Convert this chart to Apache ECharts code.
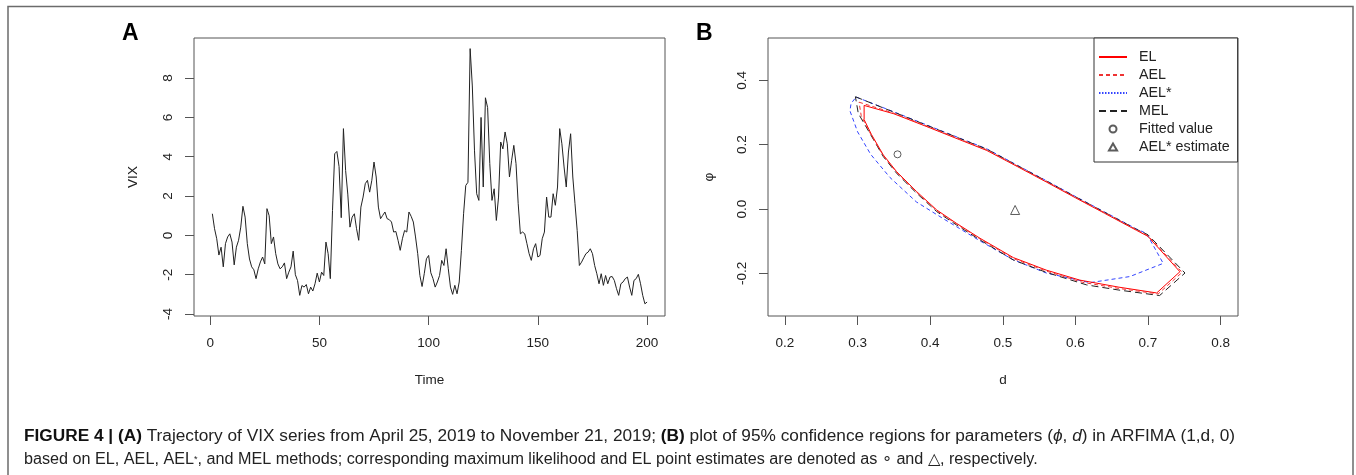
<!DOCTYPE html>
<html>
<head>
<meta charset="utf-8">
<script src="https://cdn.jsdelivr.net/npm/echarts@6/dist/echarts.min.js"></script>
<style>
html,body{margin:0;padding:0;background:#fff;}
#chart{width:1356px;height:475px;}
</style>
</head>
<body>
<div id="chart"></div>
<script>
// ---------- Panel A data: VIX (demeaned) series, t = 1..200 ----------
const vix = [
 1.1, 0.34, -0.17, -1.0, -0.6, -1.6, -0.42, -0.08, 0.08, -0.34,
 -1.5, -0.6, -0.25, 0.42, 1.48, 0.93, -0.42, -1.2, -1.6, -1.75,
 -2.2, -1.7, -1.35, -1.1, -1.45, 1.36, 1.0, -0.42, -0.08, -0.93,
 -1.45, -1.7, -1.6, -1.4, -2.2, -1.87, -1.6, -0.8, -2.0, -2.3,
 -3.05, -2.55, -2.63, -2.5, -2.97, -2.63, -2.83, -2.46, -1.92, -2.37,
 -1.87, -2.04, -0.34, -0.93, -2.2, 1.27, 4.15, 4.27, 3.5, 0.9,
 5.43, 3.3, 2.1, 0.42, 0.93, 1.1, 0.34, -0.25, 1.44, 1.95,
 2.63, 2.8, 2.2, 2.8, 3.73, 2.97, 1.44, 0.85, 1.02, 1.19,
 0.85, 0.8, 0.68, 0.17, 0.2, -0.25, -0.76, -0.17, 0.25, 0.17,
 1.19, 0.97, 0.68, -0.08, -0.93, -2.04, -2.6, -1.95, -1.19, -1.02,
 -1.9, -2.2, -2.63, -2.37, -2.04, -1.27, -1.53, -0.68, -1.7, -2.63,
 -3.0, -2.54, -2.97, -2.37, -0.76, 1.1, 2.54, 2.7, 9.5, 7.6,
 4.3, 2.12, 1.78, 6.0, 2.46, 7.0, 6.5, 3.65, 1.78, 2.37,
 0.76, 1.95, 4.75, 4.4, 5.26, 4.66, 2.97, 3.82, 4.58, 3.65,
 1.61, 0.08, 0.17, 0.08, -0.42, -0.93, -1.27, -0.68, -0.42, -1.1,
 -1.02, -0.17, 0.17, 1.95, 0.93, 0.93, 2.12, 1.53, 2.46, 5.43,
 4.66, 3.48, 2.46, 4.24, 5.17, 2.97, 1.61, 0.25, -1.53, -1.36,
 -1.14, -0.93, -0.85, -0.68, -0.93, -1.53, -1.95, -2.46, -1.95, -2.54,
 -2.04, -2.46, -2.12, -2.09, -2.29, -2.71, -3.05, -2.46, -2.37, -2.2,
 -2.12, -2.63, -3.05, -2.29, -2.2, -1.98, -2.46, -3.05, -3.48, -3.39
];
const timeTicks = [0, 50, 100, 150, 200];
const vixTicks = [-4, -2, 0, 2, 4, 6, 8];

// ---------- Panel B data: 95% confidence regions, points [d, phi] ----------
const regionEL = [
 [0.309,0.322],[0.35,0.296],[0.40,0.252],[0.44,0.216],[0.478,0.182],[0.52,0.132],
 [0.56,0.084],[0.60,0.035],[0.64,-0.013],[0.684,-0.066],[0.700,-0.085],[0.744,-0.195],
 [0.712,-0.261],[0.66,-0.243],[0.606,-0.221],[0.56,-0.190],[0.5145,-0.151],[0.4686,-0.091],
 [0.4365,-0.045],[0.409,-0.003],[0.3814,0.054],[0.3538,0.116],[0.3354,0.168],[0.319,0.232],
 [0.309,0.278],[0.309,0.322]
];
const regionAEL = [
 [0.302,0.332],[0.35,0.298],[0.40,0.254],[0.44,0.218],[0.478,0.184],[0.52,0.134],
 [0.56,0.086],[0.60,0.037],[0.64,-0.011],[0.684,-0.064],[0.700,-0.083],[0.747,-0.197],
 [0.714,-0.264],[0.66,-0.247],[0.61,-0.228],[0.56,-0.193],[0.5145,-0.154],[0.4686,-0.093],
 [0.4365,-0.047],[0.409,-0.005],[0.3814,0.052],[0.3538,0.114],[0.3354,0.166],[0.318,0.233],
 [0.305,0.290],[0.302,0.332]
];
const regionAELstar = [
 [0.298,0.348],[0.35,0.302],[0.40,0.257],[0.44,0.221],[0.478,0.187],[0.52,0.136],
 [0.56,0.088],[0.60,0.039],[0.64,-0.009],[0.684,-0.062],[0.698,-0.076],[0.721,-0.169],
 [0.675,-0.210],[0.620,-0.229],[0.56,-0.199],[0.5145,-0.158],[0.4686,-0.099],[0.44,-0.060],
 [0.418,-0.030],[0.381,0.022],[0.3446,0.098],[0.318,0.170],[0.300,0.240],[0.2895,0.305],
 [0.291,0.328],[0.298,0.348]
];
const regionMEL = [
 [0.297,0.349],[0.35,0.301],[0.40,0.256],[0.44,0.220],[0.478,0.186],[0.52,0.135],
 [0.56,0.087],[0.60,0.038],[0.64,-0.010],[0.684,-0.063],[0.700,-0.080],[0.751,-0.199],
 [0.716,-0.269],[0.66,-0.252],[0.6156,-0.236],[0.56,-0.197],[0.5145,-0.1585],[0.4686,-0.096],
 [0.4365,-0.050],[0.409,-0.008],[0.3814,0.049],[0.3538,0.111],[0.3354,0.163],[0.317,0.235],
 [0.301,0.297],[0.297,0.349]
];
const fittedValue = [[0.355, 0.170]];
const aelStarEstimate = [[0.517, -0.003]];
const dTicks = [0.2, 0.3, 0.4, 0.5, 0.6, 0.7, 0.8];
const phiTicks = [-0.2, 0.0, 0.2, 0.4];

// ---------- chart ----------
const FONT = 'Liberation Sans, Arial, sans-serif';
const CAPFONT = 'Liberation Sans, Arial, sans-serif';
const AX = '#555';
const TXT = '#222';
const chart = echarts.init(document.getElementById('chart'), null, {renderer: 'canvas'});

function xAxisCfg(idx, min, max, ticks, name, fmt) {
  return {
    type: 'value', gridIndex: idx, min: min, max: max,
    name: name, nameLocation: 'middle', nameGap: 57,
    nameTextStyle: {fontFamily: FONT, fontSize: 13.5, color: TXT},
    axisLine: {show: false, onZero: false},
    axisTick: {show: true, length: 9, customValues: ticks, lineStyle: {color: AX, width: 1}},
    axisLabel: {customValues: ticks, margin: 20, fontFamily: FONT, fontSize: 13.5, color: TXT, formatter: fmt},
    splitLine: {show: false}
  };
}
function yAxisCfg(idx, min, max, ticks, name, fmt, gap) {
  return {
    type: 'value', gridIndex: idx, min: min, max: max,
    name: name, nameLocation: 'middle', nameGap: gap, nameRotate: 90,
    nameTextStyle: {fontFamily: FONT, fontSize: 13.5, color: TXT},
    axisLine: {show: false, onZero: false},
    axisTick: {show: true, length: 9, customValues: ticks, lineStyle: {color: AX, width: 1}},
    axisLabel: {customValues: ticks, margin: 19, rotate: 90, fontFamily: FONT, fontSize: 13.5, color: TXT, formatter: fmt},
    splitLine: {show: false}
  };
}
const f1 = v => v.toFixed(1);
const f0 = v => String(v);
const noSym = {color: 'transparent', borderColor: 'transparent', borderWidth: 0, opacity: 0};
const capRich = {
  b: {fontFamily: CAPFONT, fontWeight: 'bold', fontSize: 16, fill: '#111'},
  n: {fontFamily: CAPFONT, fontWeight: 'normal', fontSize: 16, fill: '#222'},
  i: {fontFamily: CAPFONT, fontWeight: 'normal', fontStyle: 'italic', fontSize: 16, fill: '#222'},
  s: {fontFamily: CAPFONT, fontWeight: 'normal', fontSize: 9, fill: '#222'}
};

const option = {
  backgroundColor: '#fff',
  animation: false,
  title: [
    {text: 'A', left: 122, top: 22, padding: 0, textStyle: {fontFamily: FONT, fontWeight: 'bold', fontSize: 23, color: '#000'}},
    {text: 'B', left: 696, top: 22, padding: 0, textStyle: {fontFamily: FONT, fontWeight: 'bold', fontSize: 23, color: '#000'}}
  ],
  graphic: [
    {
      type: 'polyline', silent: true,
      shape: {points: [[8, 475], [8, 6.5], [1353, 6.5], [1353, 475]]},
      style: {stroke: '#6b6b6b', lineWidth: 1.5, fill: null}
    },
    {
      type: 'text', silent: true, x: 24, y: 429, scaleX: 1.078, scaleY: 1,
      style: {
        text: '{b|FIGURE 4 | (A)}{n| Trajectory of VIX series from April 25, 2019 to November 21, 2019; }{b|(B)}{n| plot of 95% confidence regions for parameters (}{i|ϕ}{n|, }{i|d}{n|) in ARFIMA (1,d, 0)}',
        font: 'normal 16px ' + CAPFONT, fill: '#222', rich: capRich
      }
    },
    {
      type: 'text', silent: true, x: 24, y: 452, scaleX: 1.011, scaleY: 1,
      style: {
        text: '{n|based on EL, AEL, AEL}{s|*}{n|, and MEL methods; corresponding maximum likelihood and EL point estimates are denoted as ∘ and △, respectively.}',
        font: 'normal 16px ' + CAPFONT, fill: '#222', rich: capRich
      }
    }
  ],
  legend: {
    orient: 'vertical', left: 1094, top: 38,
    padding: [12, 8, 8, 4], itemWidth: 28, itemHeight: 7, itemGap: 4,
    borderColor: '#333', borderWidth: 1, backgroundColor: '#fff',
    selectedMode: false, symbolKeepAspect: true,
    textStyle: {fontFamily: FONT, fontSize: 14.3, color: TXT, lineHeight: 14, padding: [0, 0, 0, 7]},
    data: [
      {name: 'EL', itemStyle: noSym},
      {name: 'AEL', itemStyle: noSym},
      {name: 'AEL*', itemStyle: noSym, lineStyle: {type: [1.5, 1.5]}},
      {name: 'MEL', itemStyle: noSym},
      {name: 'Fitted value'},
      {name: 'AEL* estimate', icon: 'path://M0,10L5.77,0L11.55,10Z'}
    ]
  },
  grid: [
    {left: 194, top: 38, width: 471, height: 278, show: true, borderColor: AX, borderWidth: 1, backgroundColor: 'transparent'},
    {left: 768, top: 38, width: 470, height: 278, show: true, borderColor: AX, borderWidth: 1, backgroundColor: 'transparent'}
  ],
  xAxis: [
    xAxisCfg(0, -7.4, 208.2, timeTicks, 'Time', f0),
    xAxisCfg(1, 0.1766, 0.824, dTicks, 'd', f1)
  ],
  yAxis: [
    yAxisCfg(0, -4.1, 10.04, vixTicks, 'VIX', f0, 54),
    yAxisCfg(1, -0.3326, 0.5316, phiTicks, 'φ', f1, 52)
  ],
  series: [
    {
      name: 'VIX', type: 'line', xAxisIndex: 0, yAxisIndex: 0,
      data: vix.map((v, i) => [i + 1, v]),
      showSymbol: false, symbol: 'none',
      lineStyle: {color: '#222', width: 1}, z: 3
    },
    {
      name: 'EL', type: 'line', xAxisIndex: 1, yAxisIndex: 1, data: regionEL,
      symbol: 'none', showSymbol: false, color: '#ff0000',
      lineStyle: {color: '#ff0000', width: 1, type: 'solid'}, z: 4
    },
    {
      name: 'AEL', type: 'line', xAxisIndex: 1, yAxisIndex: 1, data: regionAEL,
      symbol: 'none', showSymbol: false, color: '#ee3333',
      lineStyle: {color: '#ee3333', width: 1, type: [4, 3]}, z: 4
    },
    {
      name: 'AEL*', type: 'line', xAxisIndex: 1, yAxisIndex: 1, data: regionAELstar,
      symbol: 'none', showSymbol: false, color: '#3344ff',
      lineStyle: {color: '#3344ff', width: 1, type: [4, 3]}, z: 3
    },
    {
      name: 'MEL', type: 'line', xAxisIndex: 1, yAxisIndex: 1, data: regionMEL,
      symbol: 'none', showSymbol: false, color: '#222',
      lineStyle: {color: '#222', width: 1, type: [7, 4]}, z: 3
    },
    {
      name: 'Fitted value', type: 'scatter', xAxisIndex: 1, yAxisIndex: 1, data: fittedValue,
      symbol: 'circle', symbolSize: 7,
      itemStyle: {color: '#fff', borderColor: '#333', borderWidth: 1}, z: 5
    },
    {
      name: 'AEL* estimate', type: 'scatter', xAxisIndex: 1, yAxisIndex: 1, data: aelStarEstimate,
      symbol: 'triangle', symbolSize: 9,
      itemStyle: {color: '#fff', borderColor: '#333', borderWidth: 1}, z: 5
    }
  ]
};
chart.setOption(option);
</script>
</body>
</html>
